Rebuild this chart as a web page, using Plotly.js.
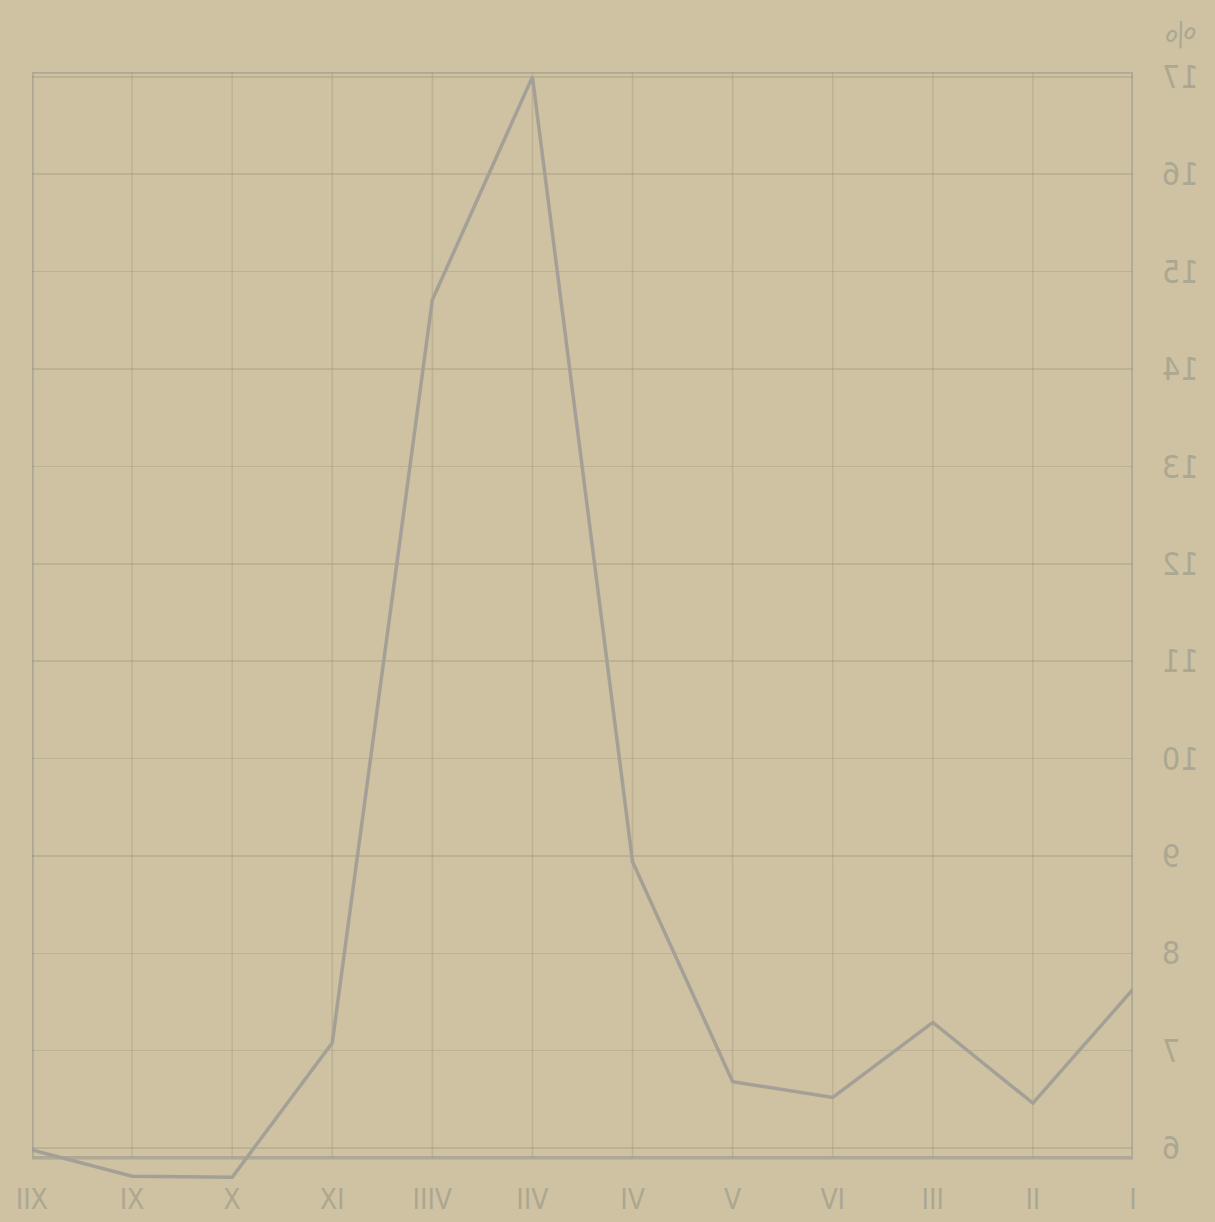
<!DOCTYPE html>
<html><head><meta charset="utf-8">
<script src="https://cdn.plot.ly/plotly-3.0.1.min.js"></script>
<style>
html,body{margin:0;padding:0;background:#cec2a3;overflow:hidden;}
#chart{width:1215px;height:1222px;transform:scaleX(-1);}
</style></head><body><div id="chart"></div>
<script>
// Months (Roman numerals) and percentage values; the reference is a mirrored (back-of-paper) view
const months = ['I','II','III','IV','V','VI','VII','VIII','IX','X','XI','XII'];
const percent = [7.63, 6.46, 7.29, 6.52, 6.68, 8.94, 17.0, 14.71, 7.08, 5.70, 5.71, 5.98];
const yTickVals = [6,7,8,9,10,11,12,13,14,15,16,17];
const yTickText = ['6','7','8','9','10','11','12','13','14','15','16','17'];
const unitLabel = '%';

const frameBottom = 5.9, frameTop = 17.05;
const gridColor = 'rgba(150,140,115,0.3)';
const frameColor = 'rgba(155,150,140,0.6)';
const textColor = '#aca791';

const shapes = [];
for (let i = 1; i < months.length - 1; i++) {
  shapes.push({type:'line', xref:'x', yref:'y', x0:i, x1:i, y0:frameBottom, y1:frameTop,
    line:{color:gridColor, width:1.5}, layer:'below'});
}
shapes.push({type:'rect', xref:'x', yref:'y', x0:0, x1:months.length-1, y0:frameBottom, y1:frameTop,
  line:{color:frameColor, width:3.5}, layer:'below'});

const trace = {
  x: months, y: percent, type:'scatter', mode:'lines',
  line:{color:'#a4a096', width:3.5}, hoverinfo:'skip'
};

const layout = {
  width:1215, height:1222,
  margin:{l:82, r:32, t:72, b:37},
  paper_bgcolor:'#cec2a3', plot_bgcolor:'#cec2a3',
  showlegend:false,
  font:{family:'"Liberation Sans Narrow", "DejaVu Sans Condensed", "Liberation Sans", sans-serif', color:textColor},
  xaxis:{type:'category', range:[0, months.length-1], showgrid:false, zeroline:false, showline:false,
    ticks:'', tickfont:{size:28, color:textColor}, ticklabelstandoff:-5, fixedrange:true},
  yaxis:{range:[5.62, 17.05], tickvals:yTickVals, ticktext:yTickText, showgrid:true,
    gridcolor:gridColor, gridwidth:1.5, zeroline:false, showline:false, ticks:'',
    tickfont:{size:32, color:textColor}, ticklabelstandoff:28, fixedrange:true},
  shapes: shapes,
  annotations:[{xref:'paper', yref:'paper', x:-0.043, y:1.033, text:unitLabel, showarrow:false,
    font:{size:32, color:textColor}, xanchor:'center', yanchor:'middle', textangle:-30}]
};

Plotly.newPlot('chart', [trace], layout, {displayModeBar:false, staticPlot:true});
</script></body></html>
